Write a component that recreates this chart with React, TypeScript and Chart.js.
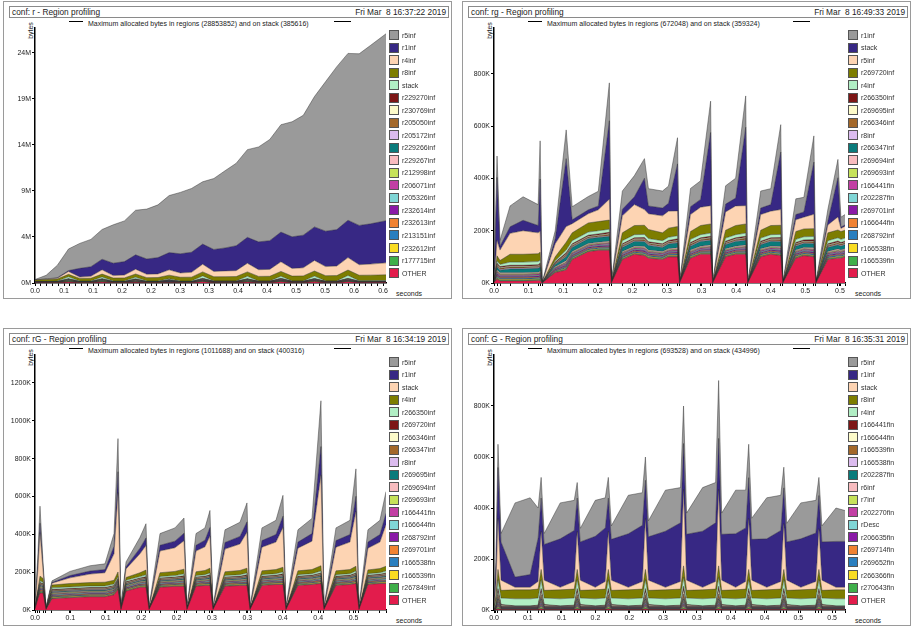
import React, { useEffect, useRef } from 'react';
import { Chart, registerables } from 'chart.js';
Chart.register(...registerables);

// ---------------- Panel 1: conf r (values in MB) ----------------
const P1_NAMES = ['r5inf','r1inf','r4inf','r8inf','stack','r229270inf','r230769inf','r205050inf','r205172inf','r229266inf','r229267inf','r212998inf','r206071inf','r205326inf','r232614inf','r232613inf','r213151inf','r232612inf','r177715inf','OTHER'];
const P1_T = [0,0.02,0.04,0.06,0.08,0.1,0.12,0.14,0.16,0.18,0.2,0.22,0.24,0.26,0.28,0.3,0.32,0.34,0.36,0.38,0.4,0.42,0.44,0.46,0.48,0.5,0.52,0.54,0.56,0.58,0.6,0.628];
const P1_r5inf = [0.03,0.38,1.3,2.25,2.6,2.85,3.1,4.0,4.25,4.65,5.2,5.5,5.95,6.4,6.65,6.5,7.4,8.05,8.6,9.15,9.9,10.55,11.2,12.0,12.5,13.6,15.6,17.0,17.4,17.9,18.6,19.5];
const P1_r1inf = [0.01,0.02,0.05,0.1,0.9,1.0,1.1,1.3,1.4,1.5,1.6,1.7,1.8,2.0,2.1,2.1,2.3,2.4,2.6,2.7,2.9,3.0,3.1,3.3,3.4,3.5,3.7,3.8,3.9,4.1,4.2,4.4];
const P1_r4inf = [0.02,0.05,0.08,0.3,0.15,0.2,0.45,0.25,0.3,0.5,0.35,0.38,0.55,0.45,0.5,0.8,0.55,0.6,0.62,0.9,0.7,0.72,1.0,0.8,0.85,1.1,0.95,1.0,1.3,1.1,1.15,1.25];
const P1_r8inf = [0.15,0.2,0.22,0.25,0.28,0.3,0.3,0.32,0.33,0.35,0.36,0.37,0.38,0.4,0.41,0.42,0.43,0.44,0.45,0.46,0.47,0.48,0.5,0.5,0.52,0.53,0.54,0.55,0.56,0.57,0.58,0.6];
const P1_stack = [0.03,0.03,0.04,0.2,0.04,0.04,0.18,0.04,0.04,0.16,0.04,0.04,0.1,0.04,0.04,0.25,0.05,0.05,0.05,0.25,0.05,0.05,0.22,0.05,0.05,0.25,0.05,0.05,0.3,0.06,0.06,0.06];
const P1_minorA = [0.01,0.01,0.01,0.03,0.01,0.01,0.03,0.01,0.01,0.03,0.01,0.01,0.02,0.01,0.01,0.03,0.01,0.01,0.01,0.03,0.01,0.01,0.03,0.01,0.01,0.03,0.01,0.01,0.03,0.01,0.01,0.01];
const P1_minorB = [0.005,0.005,0.01,0.02,0.01,0.01,0.02,0.01,0.01,0.02,0.01,0.01,0.02,0.01,0.01,0.02,0.01,0.01,0.01,0.02,0.01,0.01,0.02,0.01,0.01,0.02,0.01,0.01,0.02,0.01,0.01,0.01];
const P1_OTHER = [0.02,0.02,0.02,0.1,0.02,0.02,0.1,0.02,0.02,0.08,0.02,0.02,0.06,0.02,0.02,0.14,0.03,0.03,0.03,0.1,0.03,0.03,0.14,0.03,0.03,0.12,0.03,0.03,0.14,0.04,0.04,0.05];
const P1_X_LABELS = ['0.0','0.1','0.1','0.2','0.2','0.3','0.3','0.4','0.4','0.5','0.5','0.6','0.6'];
const P1_Y_LABELS = ['0M','4M','9M','14M','19M','24M'];

// ---------------- Panel 2: conf rg (values in K) ----------------
const P2_NAMES = ['r1inf','stack','r5inf','r269720inf','r4inf','r266350inf','r269695inf','r266346inf','r8inf','r266347inf','r269694inf','r269693inf','r166441fin','r202287fin','r269701inf','r166644fin','r268792inf','r166538fin','r166539fin','OTHER'];
const P2_T = [0,0.0046,0.0091,0.0243,0.044,0.0668,0.0698,0.0728,0.0926,0.1092,0.1183,0.1426,0.1578,0.1745,0.1775,0.1942,0.2124,0.2276,0.2336,0.2549,0.264,0.2776,0.2807,0.2973,0.3125,0.3277,0.3307,0.3504,0.3656,0.3808,0.3838,0.4035,0.4187,0.4338,0.4369,0.4566,0.4688,0.4839,0.4869,0.5051,0.5203,0.5248,0.531];
const P2_r1inf = [1,82,22,80,90,80,146,0,30,110,50,51,56,145,0,70,81,75,66,65,66,100,0,70,71,120,0,70,76,120,0,65,61,105,0,60,56,100,0,45,70,38,40];
const P2_stack = [1,240,15,25,40,28,200,0,20,260,15,15,15,300,0,25,30,120,30,30,30,180,0,30,30,280,0,30,30,300,0,25,25,220,0,20,20,200,0,15,150,5,5];
const P2_r5inf = [1,60,40,80,90,80,80,0,50,60,35,35,45,80,0,65,80,60,60,65,65,60,0,65,70,70,0,70,75,70,0,60,55,60,0,45,45,55,0,30,50,12,15];
const P2_r269720inf = [0,20,15,30,30,30,30,0,15,30,30,35,35,35,0,30,35,35,35,30,35,35,0,30,35,35,0,30,35,35,0,30,35,35,0,30,30,30,0,30,30,30,30];
const P2_r4inf = [0,8,8,12,12,12,12,0,5,10,12,12,12,12,0,12,12,12,12,12,12,12,0,12,12,12,0,12,12,12,0,12,12,12,0,12,12,12,0,12,12,12,12];
const P2_minorA = [0,5,4,4,4,4,5,0,3,5,4,4,4,5,0,4,4,5,4,4,4,5,0,4,4,5,0,4,4,5,0,4,4,5,0,4,4,5,0,4,5,4,4];
const P2_minorB = [0,3,3,3,3,3,3,0,2,3,3,3,3,3,0,3,3,3,3,3,3,3,0,3,3,3,0,3,3,3,0,3,3,3,0,3,3,3,0,3,3,3,3];
const P2_r266347inf = [0,10,10,15,15,15,15,0,8,15,15,18,18,18,0,15,18,18,18,15,18,18,0,15,18,18,0,15,18,18,0,15,18,18,0,15,15,15,0,15,15,15,15];
const P2_OTHER = [2,15,8,8,8,10,10,0,40,50,90,120,125,125,0,90,110,105,95,90,100,100,0,95,110,110,0,100,110,110,0,100,110,105,0,95,105,100,0,90,95,95,100];
const P2_X_LABELS = ['0.0','0.1','0.1','0.2','0.2','0.3','0.3','0.4','0.4','0.5','0.5'];
const P2_Y_LABELS = ['0K','200K','400K','600K','800K'];

// ---------------- Panel 3: conf rG (values in K) ----------------
const P3_NAMES = ['r5inf','r1inf','stack','r4inf','r266350inf','r269720inf','r266346inf','r266347inf','r8inf','r269695inf','r269694inf','r269693inf','r166441fin','r166644fin','r268792inf','r269701inf','r166538fin','r166539fin','r267849inf','OTHER'];
const P3_T = [0,0.0044,0.0074,0.0119,0.0163,0.0252,0.0519,0.0816,0.1038,0.1172,0.1231,0.1275,0.135,0.1557,0.1646,0.1691,0.1854,0.2076,0.221,0.2254,0.2388,0.2521,0.2595,0.264,0.2818,0.304,0.3144,0.3189,0.3366,0.3574,0.3678,0.3722,0.39,0.4108,0.4241,0.4286,0.4464,0.4671,0.476,0.4805,0.4938,0.5116,0.5206];
const P3_r5inf = [6,50,90,30,5,8,22,28,30,67,175,5,25,57,75,5,62,70,80,5,62,65,90,5,67,75,100,5,67,75,110,5,65,80,242,5,67,75,145,5,65,75,115];
const P3_r1inf = [4,30,50,12,3,4,12,16,17,40,110,3,12,30,40,3,30,35,40,3,30,35,45,3,35,40,55,3,35,40,60,3,32,40,150,3,35,40,80,3,32,40,60];
const P3_stack = [5,110,230,45,4,10,30,45,50,140,420,4,45,100,130,4,115,125,150,4,110,125,170,4,120,140,190,4,125,145,210,4,120,150,480,4,125,145,290,4,115,140,220];
const P3_r4inf = [0,10,25,20,0,15,18,18,20,20,25,0,15,20,25,0,20,22,25,0,20,22,25,0,20,22,25,0,20,22,25,0,20,22,28,0,20,22,25,0,20,22,25];
const P3_r266350inf = [0,5,8,8,0,8,8,8,8,8,10,0,8,8,10,0,8,8,10,0,8,8,10,0,8,8,10,0,8,8,10,0,8,8,10,0,8,8,10,0,8,8,10];
const P3_minorA = [0,3,5,4,0,4,4,4,4,4,5,0,4,4,5,0,4,4,5,0,4,4,5,0,4,4,5,0,4,4,5,0,4,4,5,0,4,4,5,0,4,4,5];
const P3_minorB = [0,2,3,3,0,3,3,3,3,3,3,0,3,3,3,0,3,3,3,0,3,3,3,0,3,3,3,0,3,3,3,0,3,3,3,0,3,3,3,0,3,3,3];
const P3_OTHER = [5,60,90,90,3,60,65,70,70,80,110,3,100,120,120,3,120,125,125,3,125,130,130,3,125,130,130,3,130,135,135,3,130,135,140,3,130,135,140,3,135,140,140];
const P3_X_LABELS = ['0.0','0.1','0.1','0.2','0.2','0.3','0.3','0.4','0.4','0.5'];
const P3_Y_LABELS = ['0K','200K','400K','600K','800K','1000K','1200K'];

// ---------------- Panel 4: conf G (values in K) ----------------
const P4_NAMES = ['r5inf','r1inf','stack','r8inf','r4inf','r166441fin','r166644fin','r166539fin','r166538fin','r202287fin','r6inf','r7inf','r202270fin','rDesc','r206635fin','r269714fin','r269652fin','r266366fin','r270643fin','OTHER'];
const P4_T = [0,0.0031,0.0062,0.0109,0.0327,0.0561,0.0685,0.0732,0.0779,0.1028,0.1246,0.1292,0.1339,0.1573,0.1728,0.1775,0.1822,0.2086,0.2304,0.2351,0.2398,0.2662,0.2896,0.2943,0.299,0.3239,0.3441,0.3488,0.3535,0.3752,0.3908,0.3955,0.4002,0.4235,0.4453,0.45,0.4546,0.4764,0.4998,0.5045,0.5092,0.531,0.545];
const P4_r5inf = [1,13,91,33,291,301,118,81,43,141,118,61,53,141,118,81,53,151,128,91,63,161,138,147,83,171,158,227,83,171,148,131,83,161,138,81,73,141,128,71,63,131,121];
const P4_r1inf = [3,80,200,150,40,50,170,130,140,190,200,130,150,200,210,130,160,210,220,150,170,220,230,180,180,220,230,200,180,210,210,160,160,190,200,140,150,190,190,130,150,180,180];
const P4_stack = [2,50,200,40,10,10,30,150,40,10,30,150,40,10,30,150,40,10,30,200,40,10,30,300,40,10,30,300,40,10,30,200,40,10,30,180,40,10,30,160,40,10,10];
const P4_r8inf = [2,20,40,30,35,35,35,40,30,35,35,40,30,35,35,40,30,35,35,40,30,35,35,45,30,35,35,45,30,35,35,40,30,35,35,40,30,35,35,40,30,35,35];
const P4_r4inf = [2,15,35,25,28,28,28,35,25,28,28,35,25,28,28,35,25,28,28,35,25,28,28,35,25,28,28,35,25,28,28,35,25,28,28,35,25,28,28,35,25,28,28];
const P4_minorS = [0,3,12,3,1,1,2,12,3,1,2,12,3,1,2,12,3,1,2,12,3,1,2,15,3,1,2,15,3,1,2,12,3,1,2,12,3,1,2,12,3,1,1];
const P4_minorT = [0,1,4,1,1,1,1,4,1,1,1,4,1,1,1,4,1,1,1,4,1,1,1,4,1,1,1,4,1,1,1,4,1,1,1,4,1,1,1,4,1,1,1];
const P4_OTHER = [1,2,4,2,2,2,2,4,2,2,2,4,2,2,2,4,2,2,2,4,2,2,2,4,2,2,2,4,2,2,2,4,2,2,2,4,2,2,2,4,2,2,2];
const P4_X_LABELS = ['0.0','0.1','0.1','0.2','0.2','0.3','0.3','0.4','0.4','0.5','0.5'];
const P4_Y_LABELS = ['0K','200K','400K','600K','800K'];

// ---------------- styles ----------------
const COLORS = ['#9a9a9a','#372884','#fdd4b3','#7d7d00','#b1eec4','#7d1616','#fdfbca','#a3682a','#dcbcef','#0a7b7b','#f8bcbf','#c6e25a','#c23fa4','#80d6d6','#8a1aa6','#f08232','#2a7fbf','#f9dc22','#3faf4a','#e21c4c'];
const FONT = "'Liberation Sans', Arial, Helvetica, sans-serif";

type Cfg = {
  dx: number; dy: number;
  title: string; date: string; sub: string;
  names: string[]; series: number[][]; times: number[];
  yMax: number; yStep: number; yLabels: string[];
  xMax: number; xStep: number; xLabels: string[];
  minorTicks?: boolean;
};

const PANELS: Cfg[] = [
  { dx: 0, dy: 0, title: 'conf: r - Region profiling', date: 'Fri Mar  8 16:37:22 2019',
    sub: 'Maximum allocated bytes in regions (28853852) and on stack (385616)',
    names: P1_NAMES,
    series: [P1_r5inf,P1_r1inf,P1_r4inf,P1_r8inf,P1_stack,P1_minorA,P1_minorB,P1_minorA,P1_minorB,P1_minorA,P1_minorB,P1_minorA,P1_minorB,P1_minorA,P1_minorB,P1_minorA,P1_minorB,P1_minorA,P1_minorB,P1_OTHER],
    times: P1_T, yMax: 26.6, yStep: 4.8, yLabels: P1_Y_LABELS, xMax: 0.628, xStep: 0.0519, xLabels: P1_X_LABELS, minorTicks: true },
  { dx: 459, dy: 0, title: 'conf: rg - Region profiling', date: 'Fri Mar  8 16:49:33 2019',
    sub: 'Maximum allocated bytes in regions (672048) and on stack (359324)',
    names: P2_NAMES,
    series: [P2_r1inf,P2_stack,P2_r5inf,P2_r269720inf,P2_r4inf,P2_minorA,P2_minorB,P2_minorA,P2_minorB,P2_r266347inf,P2_minorA,P2_minorB,P2_minorA,P2_minorB,P2_minorA,P2_minorB,P2_minorA,P2_minorB,P2_minorB,P2_OTHER],
    times: P2_T, yMax: 976, yStep: 200, yLabels: P2_Y_LABELS, xMax: 0.531, xStep: 0.05234, xLabels: P2_X_LABELS },
  { dx: 0, dy: 327, title: 'conf: rG - Region profiling', date: 'Fri Mar  8 16:34:19 2019',
    sub: 'Maximum allocated bytes in regions (1011688) and on stack (400316)',
    names: P3_NAMES,
    series: [P3_r5inf,P3_r1inf,P3_stack,P3_r4inf,P3_r266350inf,P3_minorA,P3_minorB,P3_minorA,P3_minorB,P3_minorA,P3_minorB,P3_minorA,P3_minorB,P3_minorA,P3_minorB,P3_minorA,P3_minorB,P3_minorA,P3_minorB,P3_OTHER],
    times: P3_T, yMax: 1348, yStep: 200, yLabels: P3_Y_LABELS, xMax: 0.5206, xStep: 0.0525, xLabels: P3_X_LABELS },
  { dx: 459, dy: 327, title: 'conf: G - Region profiling', date: 'Fri Mar  8 16:35:31 2019',
    sub: 'Maximum allocated bytes in regions (693528) and on stack (434996)',
    names: P4_NAMES,
    series: [P4_r5inf,P4_r1inf,P4_stack,P4_r8inf,P4_r4inf,P4_minorS,P4_minorS,P4_minorS,P4_minorT,P4_minorT,P4_minorT,P4_minorT,P4_minorT,P4_minorT,P4_minorT,P4_minorT,P4_minorT,P4_minorT,P4_minorT,P4_OTHER],
    times: P4_T, yMax: 1000, yStep: 200, yLabels: P4_Y_LABELS, xMax: 0.545, xStep: 0.0525, xLabels: P4_X_LABELS },
];

function PanelChart({ cfg }: { cfg: Cfg }) {
  const ref = useRef<HTMLCanvasElement>(null);
  useEffect(() => {
    const n = cfg.names.length;
    const datasets: any[] = [];
    for (let k = n - 1; k >= 0; k--) {
      const di = n - 1 - k;
      datasets.push({
        label: cfg.names[k],
        data: cfg.times.map((t, i) => ({ x: t, y: cfg.series[k][i] })),
        backgroundColor: COLORS[k],
        borderColor: 'rgba(45,45,45,0.75)',
        borderWidth: 0.6,
        fill: di === 0 ? 'origin' : '-1',
        pointRadius: 0,
        tension: 0,
      });
    }
    const majors = cfg.xLabels.map((_, i) => i * cfg.xStep);
    let minors: number[] = cfg.times.slice();
    if (cfg.minorTicks) {
      minors = [];
      for (let v = 0; v <= cfg.xMax + 1e-9; v += cfg.xStep / 5) minors.push(v);
    }
    const all = [...majors];
    minors.forEach((v) => { if (v <= cfg.xMax && !all.some((m) => Math.abs(m - v) < 1e-6)) all.push(v); });
    all.sort((a, b) => a - b);
    const tickFont = { size: 7, family: FONT };
    const chart = new Chart(ref.current!, {
      type: 'line',
      data: { datasets },
      options: {
        animation: false,
        responsive: false,
        maintainAspectRatio: false,
        layout: { padding: { top: 6, right: 8, left: 0, bottom: 0 } },
        plugins: { legend: { display: false }, tooltip: { enabled: false }, title: { display: false } },
        scales: {
          x: {
            type: 'linear', min: 0, max: cfg.xMax,
            afterBuildTicks: (s: any) => { s.ticks = all.map((v) => ({ value: v })); },
            afterFit: (s: any) => { s.height = 14; },
            ticks: {
              autoSkip: false, maxRotation: 0, minRotation: 0, font: tickFont, color: '#222', padding: 1,
              callback: (v: any) => {
                const j = majors.findIndex((m) => Math.abs(m - v) < 1e-6);
                return j >= 0 ? cfg.xLabels[j] : '';
              },
            },
            grid: { drawOnChartArea: false, tickLength: 3, color: '#000', lineWidth: 1 },
            border: { color: '#000', width: 1.5 },
          },
          y: {
            stacked: true, min: 0, max: cfg.yMax,
            afterBuildTicks: (s: any) => { s.ticks = cfg.yLabels.map((_, i) => ({ value: i * cfg.yStep })); },
            afterFit: (s: any) => { s.width = 30; },
            ticks: { font: tickFont, color: '#222', padding: 1, callback: (_v: any, i: number) => cfg.yLabels[i] },
            grid: { drawOnChartArea: false, tickLength: 3, color: '#000', lineWidth: 1 },
            border: { color: '#000', width: 1.5 },
          },
        },
      } as any,
    });
    return () => chart.destroy();
  }, [cfg]);
  return (
    <canvas ref={ref} width={389} height={275}
      style={{ position: 'absolute', left: 5 + cfg.dx, top: 22 + cfg.dy, width: 389, height: 275 }} />
  );
}

function Panel({ cfg }: { cfg: Cfg }) {
  const { dx, dy } = cfg;
  const txt: React.CSSProperties = { position: 'absolute', fontFamily: FONT, color: '#222', whiteSpace: 'pre', lineHeight: 1 };
  return (
    <>
      <div style={{ position: 'absolute', left: 3 + dx, top: 1 + dy, width: 449, height: 298, boxSizing: 'border-box', border: '1px solid #9a9a9a' }} />
      <div style={{ position: 'absolute', left: 9 + dx, top: 6 + dy, width: 440, height: 12, boxSizing: 'border-box', border: '1px solid #8a8a8a' }} />
      <div style={{ ...txt, left: 12 + dx, top: 8 + dy, fontSize: 8.3 }}>{cfg.title}</div>
      <div style={{ ...txt, left: 300 + dx, width: 146, textAlign: 'right', top: 8 + dy, fontSize: 8.3 }}>{cfg.date}</div>
      <div style={{ position: 'absolute', left: 69 + dx, top: 21 + dy, width: 14, height: 1, background: '#000' }} />
      <div style={{ position: 'absolute', left: 334 + dx, top: 21 + dy, width: 17, height: 1, background: '#000' }} />
      <div style={{ ...txt, left: 88 + dx, top: 20 + dy, fontSize: 7 }}>{cfg.sub}</div>
      <div style={{ ...txt, left: 22 + dx, top: 27 + dy, fontSize: 7, transform: 'rotate(-90deg)', transformOrigin: 'center' }}>bytes</div>
      <div style={{ ...txt, left: 396 + dx, top: 290 + dy, fontSize: 7 }}>seconds</div>
      <PanelChart cfg={cfg} />
      {cfg.names.map((nm, i) => (
        <React.Fragment key={nm + i}>
          <div style={{ position: 'absolute', left: 389 + dx, top: 30 + dy + i * 12.53, width: 10, height: 10, boxSizing: 'border-box', border: '1px solid #555', background: COLORS[i] }} />
          <div style={{ ...txt, left: 402 + dx, top: 31.5 + dy + i * 12.53, fontSize: 7, color: '#333' }}>{nm}</div>
        </React.Fragment>
      ))}
    </>
  );
}

export default function App() {
  return (
    <div style={{ position: 'absolute', left: 0, top: 0, width: 911, height: 628, background: '#fff', overflow: 'hidden' }}>
      {PANELS.map((p, i) => <Panel key={i} cfg={p} />)}
    </div>
  );
}
